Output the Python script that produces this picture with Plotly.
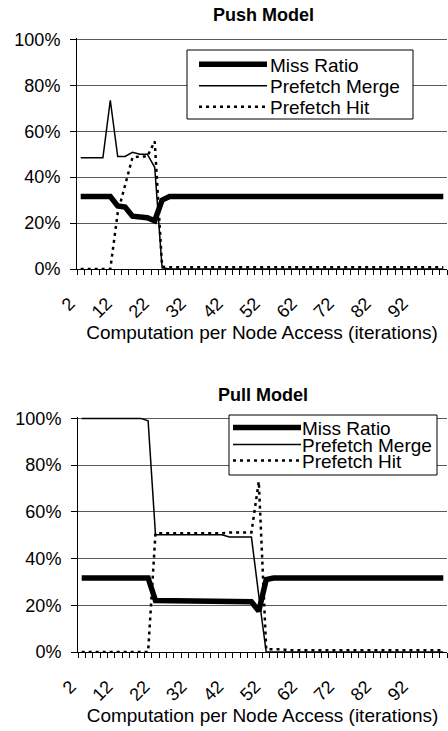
import plotly.graph_objects as go

# ---------------- data ----------------
iterations = [2, 4, 6, 8, 10, 12, 14, 16, 18, 20, 22, 24, 26, 28, 30, 32, 34, 36, 38, 40,
              42, 44, 46, 48, 50, 52, 54, 56, 58, 60, 62, 64, 66, 68, 70, 72, 74, 76, 78, 80,
              82, 84, 86, 88, 90, 92, 94, 96, 98, 100]

tick_labels = [2, 12, 22, 32, 42, 52, 62, 72, 82, 92]

push_miss = [31.6, 31.6, 31.6, 31.6, 31.6, 27.5, 27.0, 23.0, 22.5, 22.3, 21.0, 30.0, 31.6, 31.6, 31.6, 31.6, 31.6, 31.6, 31.6, 31.6,
             31.6, 31.6, 31.6, 31.6, 31.6, 31.6, 31.6, 31.6, 31.6, 31.6, 31.6, 31.6, 31.6, 31.6, 31.6, 31.6, 31.6, 31.6, 31.6, 31.6,
             31.6, 31.6, 31.6, 31.6, 31.6, 31.6, 31.6, 31.6, 31.6, 31.6]
push_merge = [48.4, 48.4, 48.4, 48.4, 73.5, 49.0, 49.0, 50.8, 50.0, 50.0, 44.3, 0.5, 0.0, 0.0, 0.0, 0.0, 0.0, 0.0, 0.0, 0.0,
              0.0, 0.0, 0.0, 0.0, 0.0, 0.0, 0.0, 0.0, 0.0, 0.0, 0.0, 0.0, 0.0, 0.0, 0.0, 0.0, 0.0, 0.0, 0.0, 0.0,
              0.0, 0.0, 0.0, 0.0, 0.0, 0.0, 0.0, 0.0, 0.0, 0.0]
push_hit = [0.0, 0.0, 0.0, 0.0, 0.0, 24.4, 36.0, 48.6, 49.0, 49.0, 55.6, 1.0, 0.8, 0.8, 0.8, 0.8, 0.8, 0.8, 0.8, 0.8,
            0.8, 0.8, 0.8, 0.8, 0.8, 0.8, 0.8, 0.8, 0.8, 0.8, 0.8, 0.8, 0.8, 0.8, 0.8, 0.8, 0.8, 0.8, 0.8, 0.8,
            0.8, 0.8, 0.8, 0.8, 0.8, 0.8, 0.8, 0.8, 0.8, 0.8]

pull_miss = [31.7, 31.7, 31.7, 31.7, 31.7, 31.7, 31.7, 31.7, 31.7, 31.7, 22.0, 22.0, 22.0, 22.0, 22.0, 22.0, 22.0, 22.0, 21.5, 21.5,
             21.5, 21.5, 21.5, 21.5, 17.5, 31.0, 31.7, 31.7, 31.7, 31.7, 31.7, 31.7, 31.7, 31.7, 31.7, 31.7, 31.7, 31.7, 31.7, 31.7,
             31.7, 31.7, 31.7, 31.7, 31.7, 31.7, 31.7, 31.7, 31.7, 31.7]
pull_merge = [100.0, 100.0, 100.0, 100.0, 100.0, 100.0, 100.0, 100.0, 100.0, 99.0, 50.2, 50.2, 50.2, 50.2, 50.2, 50.2, 50.2, 50.2, 50.2, 50.2,
              49.2, 49.2, 49.2, 49.2, 24.0, 0.0, 0.0, 0.0, 0.0, 0.0, 0.0, 0.0, 0.0, 0.0, 0.0, 0.0, 0.0, 0.0, 0.0, 0.0,
              0.0, 0.0, 0.0, 0.0, 0.0, 0.0, 0.0, 0.0, 0.0, 0.0]
pull_hit = [0.0, 0.0, 0.0, 0.0, 0.0, 0.0, 0.0, 0.0, 0.0, 0.0, 50.8, 50.8, 50.8, 50.8, 50.8, 50.8, 50.8, 50.8, 50.8, 50.8,
            51.2, 51.2, 51.2, 51.2, 73.0, 1.2, 1.2, 1.2, 0.7, 0.7, 0.7, 0.7, 0.7, 0.7, 0.7, 0.7, 0.7, 0.7, 0.7, 0.7,
            0.7, 0.7, 0.7, 0.7, 0.7, 0.7, 0.7, 0.7, 0.7, 0.7]

series_names = ["Miss Ratio", "Prefetch Merge", "Prefetch Hit"]
titles = ["Push Model", "Pull Model"]
x_title = "Computation per Node Access (iterations)"

# ---------------- figure ----------------
W, H = 448, 731
FONT = "Liberation Sans, Arial, sans-serif"

styles = [dict(color="black", width=5.5),
          dict(color="black", width=1.5),
          dict(color="black", width=2.5, dash="3px,4px")]

fig = go.Figure()
panels = [("x", "y", [push_miss, push_merge, push_hit]),
          ("x2", "y2", [pull_miss, pull_merge, pull_hit])]
for xa, ya, data in panels:
    for name, vals, st in zip(series_names, data, styles):
        fig.add_trace(go.Scatter(x=iterations, y=vals, mode="lines", name=name,
                                 line=st, xaxis=xa, yaxis=ya, showlegend=False,
                                 hoverinfo="skip"))

def xaxis_cfg(domain, anchor):
    return dict(domain=domain, anchor=anchor, range=[1, 101], automargin=False,
                tickmode="array", tickvals=tick_labels,
                ticktext=[str(t) for t in tick_labels],
                tickangle=-45, ticks="", showgrid=False, zeroline=False,
                ticklabelshift=-11, ticklabelstandoff=16,
                showline=True, linecolor="black", linewidth=1,
                tickfont=dict(family=FONT, size=18, color="black"),
                minor=dict(tick0=1, dtick=2, ticks="outside", ticklen=5,
                           tickcolor="black", tickwidth=1, showgrid=False),
                title=dict(text=x_title, font=dict(family=FONT, size=19, color="black"),
                           standoff=2))

def yaxis_cfg(domain, anchor):
    return dict(domain=domain, anchor=anchor, range=[0, 100.6], automargin=False,
                tickmode="array", tickvals=[0, 20, 40, 60, 80, 100],
                ticktext=["0%", "20%", "40%", "60%", "80%", "100%"],
                ticks="outside", ticklen=6, tickcolor="black",
                ticklabelstandoff=6,
                showline=True, linecolor="black", linewidth=1,
                showgrid=True, gridcolor="#5a5a5a", gridwidth=1, zeroline=False,
                tickfont=dict(family=FONT, size=18, color="black"))

def px_x(p):
    return p / W

def px_y(p):
    return 1 - p / H

# legend layout (pixel geometry of the two legend boxes)
legend_boxes = [
    dict(x0=187, x1=413, y0=50, y1=119, s0=199, s1=267, tx=269, rows=[64.3, 85.7, 106.7]),
    dict(x0=229, x1=437, y0=415, y1=475, s0=233, s1=301, tx=301, rows=[427.5, 444.5, 460.5]),
]

shapes = []
annotations = []
for lb in legend_boxes:
    shapes.append(dict(type="rect", xref="paper", yref="paper",
                       x0=px_x(lb["x0"]), x1=px_x(lb["x1"]),
                       y0=px_y(lb["y1"]), y1=px_y(lb["y0"]),
                       line=dict(color="black", width=1), fillcolor="white", layer="above"))
    for name, st, ry in zip(series_names, styles, lb["rows"]):
        shapes.append(dict(type="line", xref="paper", yref="paper",
                           x0=px_x(lb["s0"]), x1=px_x(lb["s1"]),
                           y0=px_y(ry), y1=px_y(ry),
                           line=st, layer="above"))
        annotations.append(dict(text=name, x=px_x(lb["tx"]), y=px_y(ry + 1),
                                xref="paper", yref="paper", showarrow=False,
                                xanchor="left", yanchor="middle", borderpad=0,
                                font=dict(family=FONT, size=19, color="black")))

annotations.append(dict(text="<b>%s</b>" % titles[0], x=px_x(263), y=px_y(15),
                        xref="paper", yref="paper", showarrow=False,
                        xanchor="center", yanchor="middle",
                        font=dict(family=FONT, size=18, color="black")))
annotations.append(dict(text="<b>%s</b>" % titles[1], x=px_x(263), y=px_y(395),
                        xref="paper", yref="paper", showarrow=False,
                        xanchor="center", yanchor="middle",
                        font=dict(family=FONT, size=18, color="black")))

fig.update_layout(
    width=W, height=H, margin=dict(l=0, r=0, t=0, b=0),
    paper_bgcolor="white", plot_bgcolor="white",
    font=dict(family=FONT, color="black"),
    xaxis=xaxis_cfg([77 / W, 447 / W], "y"),
    yaxis=yaxis_cfg([px_y(269), px_y(38)], "x"),
    xaxis2=xaxis_cfg([78 / W, 447 / W], "y2"),
    yaxis2=yaxis_cfg([px_y(652), px_y(417)], "x2"),
    showlegend=False,
    hovermode=False,
    shapes=shapes,
    annotations=annotations,
)

fig.write_html("out.html", config={"displayModeBar": False},
               post_script="document.body.style.margin='0';document.body.style.overflow='hidden';")
